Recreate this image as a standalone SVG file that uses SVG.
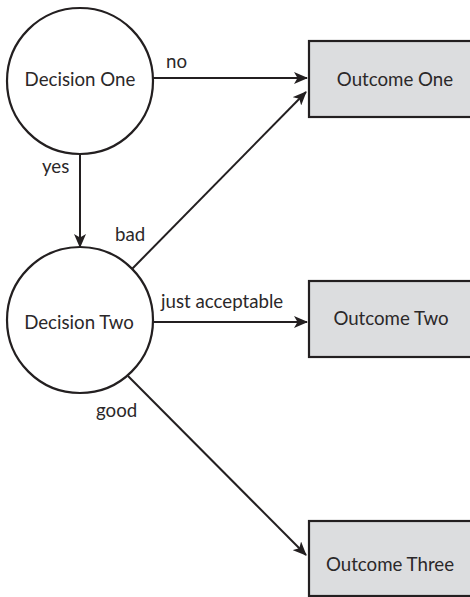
<svg xmlns="http://www.w3.org/2000/svg" width="470" height="597" viewBox="0 0 470 597">
<style>
.node{fill:#ffffff;stroke:#231f20;stroke-width:2.2}
.box{fill:#dcdddf;stroke:#231f20;stroke-width:2.2}
.lbl{font-family:Lato,"Open Sans",sans-serif;font-size:18.7px;fill:#2b2829}
.ntx{font-family:Lato,"Open Sans",sans-serif;font-size:18.7px;fill:#2b2829;text-anchor:middle}
.edge{stroke:#231f20;stroke-width:2;fill:none}
</style>
<defs>
<marker id="arr" markerUnits="userSpaceOnUse" markerWidth="14" markerHeight="12" refX="13" refY="6" orient="auto">
<path d="M0,0 L14,6 L0,12 L3.5,6 z" fill="#231f20"/>
</marker>
</defs>
<rect width="470" height="597" fill="#ffffff"/>
<g id="connectors">
<line class="edge" x1="153" y1="78" x2="307" y2="78" marker-end="url(#arr)"/>
<line class="edge" x1="80" y1="154" x2="80" y2="247" marker-end="url(#arr)"/>
<line class="edge" x1="132" y1="269" x2="306" y2="92" marker-end="url(#arr)"/>
<line class="edge" x1="153" y1="322" x2="307" y2="322" marker-end="url(#arr)"/>
<line class="edge" x1="128" y1="376" x2="306" y2="555" marker-end="url(#arr)"/>
<text class="lbl" x="166" y="68">no</text>
<text class="lbl" x="42" y="173">yes</text>
<text class="lbl" x="115" y="241">bad</text>
<text class="lbl" x="161" y="308">just acceptable</text>
<text class="lbl" x="96" y="417">good</text>
</g>
<g id="decision-one">
<circle class="node" cx="80" cy="81" r="73"/>
<text class="ntx" x="80" y="86">Decision One</text>
</g>
<g id="decision-two">
<circle class="node" cx="80" cy="320" r="73"/>
<text class="ntx" x="79" y="329">Decision Two</text>
</g>
<g id="outcome-one">
<rect class="box" x="309" y="41" width="180" height="76"/>
<text class="ntx" x="395" y="86">Outcome One</text>
</g>
<g id="outcome-two">
<rect class="box" x="309" y="281" width="180" height="76"/>
<text class="ntx" x="391" y="325">Outcome Two</text>
</g>
<g id="outcome-three">
<rect class="box" x="309" y="521" width="180" height="75"/>
<text class="ntx" x="390" y="571">Outcome Three</text>
</g>
</svg>
